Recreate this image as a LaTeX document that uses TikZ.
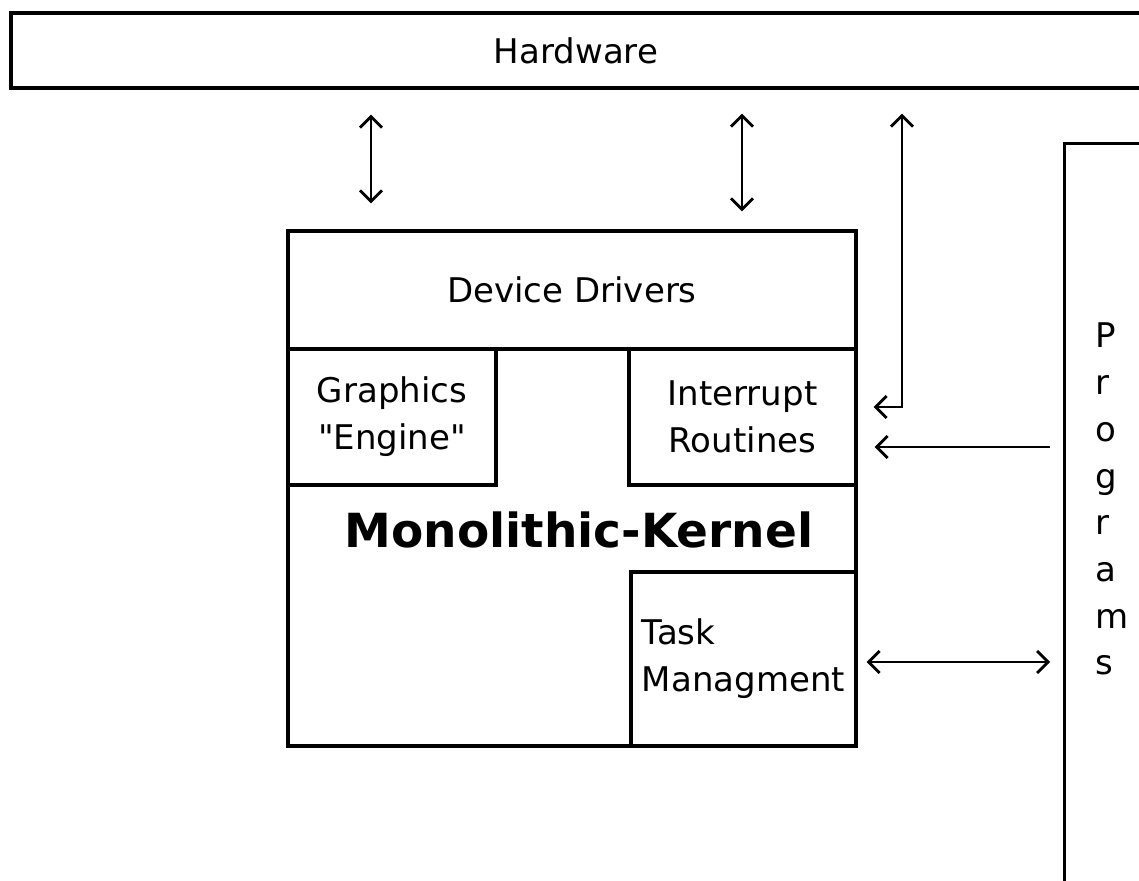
\documentclass[tikz,border=0pt]{standalone}
\usepackage{fontspec}
\setmainfont{DejaVu Sans}
\usetikzlibrary{arrows.meta}

\begin{document}
\begin{tikzpicture}[x=1pt,y=-1pt,
	box/.style={draw,line width=3.2pt,inner sep=0pt,font=\fontsize{34}{47}\selectfont},
	arr/.style={line width=2.8pt,-{Straight Barb[length=11pt,width=22pt]}},
	dbl/.style={line width=2.8pt,{Straight Barb[length=11pt,width=22pt]}-{Straight Barb[length=11pt,width=22pt]}}]
	\useasboundingbox (0,0) rectangle (1139,880);
	\node[box,minimum width=1130pt,minimum height=75pt] (hw) at (576,50.5) {Hardware};
	\node[box,anchor=north west,minimum width=200pt,minimum height=800pt] (prog) at (1063,142) {};
	\node[inner sep=0pt,anchor=north west,align=left,font=\fontsize{34}{46.7}\selectfont] (progtxt) at (1095,323) {P\\r\\o\\g\\r\\a\\m\\s};
	\node[box,minimum width=568pt,minimum height=515pt] (kern) at (572,488.5) {};
	\node[box,minimum width=568pt,minimum height=118pt] (dd) at (572,290) {Device Drivers};
	\node[box,align=center,minimum width=208pt,minimum height=136pt] (gfx) at (392,417) {Graphics\\\textquotedbl Engine\textquotedbl};
	\node[box,align=center,minimum width=227pt,minimum height=136pt] (irq) at (742.5,417) {Interrupt\\Routines};
	\node[box,align=left,minimum width=225pt,minimum height=174pt] (task) at (743.5,659) {Task\\Managment};
	\node[font=\fontsize{47}{56}\bfseries] (mono) at (579,530) {Monolithic-Kernel};
	\coordinate (c1) at (371,0);
	\coordinate (c2) at (742,0);
	\coordinate (c3) at (902,0);
	\coordinate (c4) at (0,447);
	\coordinate (c5) at (0,662);
	\draw[dbl,shorten <=25pt,shorten >=26pt] (hw.south -| c1) -- (dd.north -| c1);
	\draw[dbl,shorten <=24pt,shorten >=18pt] (hw.south -| c2) -- (dd.north -| c2);
	\draw[dbl] ([yshift=-24pt]hw.south -| c3) |- ([xshift=16pt,yshift=10pt]irq.east);
	\draw[arr,shorten <=13pt,shorten >=17pt] (prog.west |- c4) -- (irq.east |- c4);
	\draw[dbl,shorten <=9pt,shorten >=13pt] (task.east |- c5) -- (prog.west |- c5);
\end{tikzpicture}
\end{document}
